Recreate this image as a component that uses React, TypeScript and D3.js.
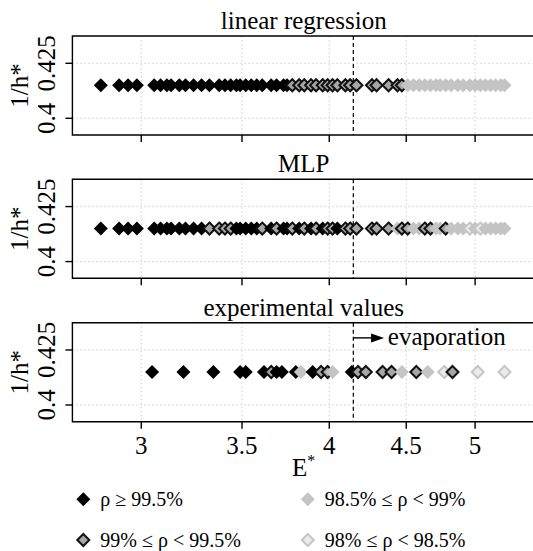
import React from "react";
import * as d3 from "d3";

// E* positions shared by the two model panels
const predE = [
  2.82, 2.9, 2.94, 2.98, 3.06, 3.09, 3.12, 3.14, 3.18, 3.21, 3.25, 3.29, 3.33,
  3.38, 3.41, 3.44, 3.47, 3.49, 3.52, 3.55, 3.58, 3.61, 3.66, 3.69, 3.73, 3.75,
  3.78, 3.82, 3.85, 3.89, 3.92, 3.96, 3.99, 4.02, 4.05, 4.1, 4.13, 4.17, 4.27,
  4.3, 4.38, 4.44, 4.47, 4.51, 4.55, 4.59, 4.63, 4.67, 4.71, 4.74, 4.78, 4.82,
  4.87, 4.91, 4.96, 5.0, 5.04, 5.08, 5.12, 5.16, 5.2, 5.23,
];

// A: rho >= 99.5, B: 99-99.5, C: 98.5-99, D: 98-98.5
const lrClass = [
  "A", "A", "A", "A", "A", "A", "A", "A", "A", "A", "A", "A", "A",
  "A", "A", "A", "A", "A", "A", "A", "A", "A", "A", "A", "A", "A",
  "B", "B", "B", "B", "B", "B", "B", "B", "B", "B", "B", "B", "B",
  "B", "B", "B", "B", "C", "C", "C", "C", "C", "C", "C", "C", "C",
  "C", "C", "C", "C", "C", "C", "C", "C", "C", "C",
];

const mlpClass = [
  "A", "A", "A", "A", "A", "A", "A", "A", "A", "A", "A", "A", "B",
  "B", "B", "B", "A", "A", "A", "A", "A", "B", "A", "B", "A", "A",
  "B", "A", "B", "A", "B", "A", "B", "B", "A", "B", "B", "B", "B",
  "B", "B", "C", "B", "B", "C", "C", "B", "B", "C", "C", "B", "C",
  "C", "C", "D", "C", "D", "C", "C", "C", "C", "C",
];

const expE = [
  3.05, 3.2, 3.35, 3.49, 3.52, 3.62, 3.66, 3.69, 3.72, 3.8, 3.83, 3.9, 3.95,
  3.99, 4.02, 4.14, 4.18, 4.23, 4.34, 4.4, 4.47, 4.57, 4.65, 4.77, 4.83, 5.02,
  5.23,
];
const expClass = [
  "A", "A", "A", "A", "A", "A", "B", "A", "A", "A", "C", "A", "B",
  "B", "C", "A", "B", "B", "B", "B", "C", "B", "C", "D", "B", "D",
  "D",
];

const panelTitles = ["linear regression", "MLP", "experimental values"];
const xTicks = [3, 3.5, 4, 4.5, 5];
const yTicks = [0.4, 0.425];
const hValue = 0.415;
const evapE = 4.15;

const legendLabels = [
  ["A", "ρ ≥ 99.5%"],
  ["C", "98.5% ≤ ρ < 99%"],
  ["B", "99% ≤ ρ < 99.5%"],
  ["D", "98% ≤ ρ < 98.5%"],
];

const serif = { fontFamily: "Liberation Serif" };

const styles: Record<string, { fill: string; stroke: string; sw: number; r: number }> = {
  A: { fill: "#000", stroke: "none", sw: 0, r: 7 },
  B: { fill: "#a6a6a6", stroke: "#111", sw: 2, r: 6 },
  C: { fill: "#c4c4c4", stroke: "none", sw: 0, r: 7 },
  D: { fill: "#ebebeb", stroke: "#c6c6c6", sw: 2, r: 6 },
};

const diamond = (r: number) => `M0,${-r}L${r},0L0,${r}L${-r},0Z`;

const Marker = ({ cls, x, y }: { cls: string; x: number; y: number }) => {
  const s = styles[cls];
  return (
    <path
      d={diamond(s.r)}
      transform={`translate(${x},${y})`}
      fill={s.fill}
      stroke={s.stroke}
      strokeWidth={s.sw}
    />
  );
};

const App = () => {
  const width = 533;
  const height = 551;
  const left = 72.4;
  const right = 535;
  const panelTop = [36, 179.3, 322.7];
  const panelH = 99;

  const x = d3.scaleLog().domain([2.7, 5.48]).range([left, right]);

  const panels = [
    { e: predE, cls: lrClass },
    { e: predE, cls: mlpClass },
    { e: expE, cls: expClass },
  ];

  return (
    <svg
      width={width}
      height={height}
      style={{ position: "absolute", left: 0, top: 0, background: "#fff" }}
    >
      {panels.map((p, i) => {
        const top = panelTop[i];
        const bottom = top + panelH;
        const y = d3.scaleLinear().domain([0.3924, 0.4374]).range([bottom, top]);
        const midY = (top + bottom) / 2;
        return (
          <g key={i}>
            <text x={(left + right) / 2} y={top - 7} fontSize={25} textAnchor="middle" style={serif}>
              {panelTitles[i]}
            </text>
            {xTicks.map((t) => (
              <line
                key={"gx" + t}
                x1={x(t)}
                x2={x(t)}
                y1={top}
                y2={bottom}
                stroke="#cfcfcf"
                strokeDasharray="1.5,2.5"
              />
            ))}
            {yTicks.map((t) => (
              <line
                key={"gy" + t}
                x1={left}
                x2={right}
                y1={y(t)}
                y2={y(t)}
                stroke="#cfcfcf"
                strokeDasharray="1.5,2.5"
              />
            ))}
            <line
              x1={x(evapE)}
              x2={x(evapE)}
              y1={top}
              y2={bottom}
              stroke="#000"
              strokeWidth={1.2}
              strokeDasharray="4,3"
            />
            {p.e.map((e, j) => (
              <Marker key={j} cls={p.cls[j]} x={x(e)} y={y(hValue)} />
            ))}
            <path
              d={`M${right},${top}H${left}V${bottom}H${right}`}
              fill="none"
              stroke="#000"
              strokeWidth={1.4}
            />
            {xTicks.map((t) => (
              <line
                key={"tx" + t}
                x1={x(t)}
                x2={x(t)}
                y1={bottom}
                y2={bottom + 7}
                stroke="#000"
                strokeWidth={1.4}
              />
            ))}
            {yTicks.map((t) => (
              <g key={"ty" + t}>
                <line
                  x1={left - 7}
                  x2={left}
                  y1={y(t)}
                  y2={y(t)}
                  stroke="#000"
                  strokeWidth={1.4}
                />
                <text
                  transform={`translate(55,${y(t)}) rotate(-90)`}
                  fontSize={25}
                  textAnchor="middle"
                  style={serif}
                >
                  {t}
                </text>
              </g>
            ))}
            <text
              transform={`translate(28,${midY}) rotate(-90)`}
              fontSize={25}
              textAnchor="middle"
              style={serif}
            >
              1/h*
            </text>
            {i === 2 &&
              xTicks.map((t) => (
                <text
                  key={"lx" + t}
                  x={x(t)}
                  y={bottom + 32}
                  fontSize={25}
                  textAnchor="middle"
                  style={serif}
                >
                  {t}
                </text>
              ))}
            {i === 2 && (
              <g>
                <line
                  x1={x(evapE)}
                  x2={x(4.33)}
                  y1={y(0.4305)}
                  y2={y(0.4305)}
                  stroke="#000"
                  strokeWidth={1.4}
                />
                <path d={`M${x(4.35)},${y(0.4305)}l-13,-4.5v9Z`} fill="#000" />
                <text x={x(4.375)} y={y(0.4305) + 7} fontSize={25} style={serif}>
                  evaporation
                </text>
              </g>
            )}
          </g>
        );
      })}
      <text x={(left + right) / 2} y={476} fontSize={25} textAnchor="middle" style={serif}>
        E
        <tspan fontSize={16} dy={-10}>
          *
        </tspan>
      </text>
      {legendLabels.map(([cls, label], k) => {
        const lx = k % 2 === 0 ? 83.3 : 307.8;
        const ly = k < 2 ? 499.3 : 540;
        return (
          <g key={label}>
            <Marker cls={cls} x={lx} y={ly} />
            <text x={lx + 17} y={ly + 7} fontSize={20} style={serif}>
              {label}
            </text>
          </g>
        );
      })}
    </svg>
  );
};

export default App;
